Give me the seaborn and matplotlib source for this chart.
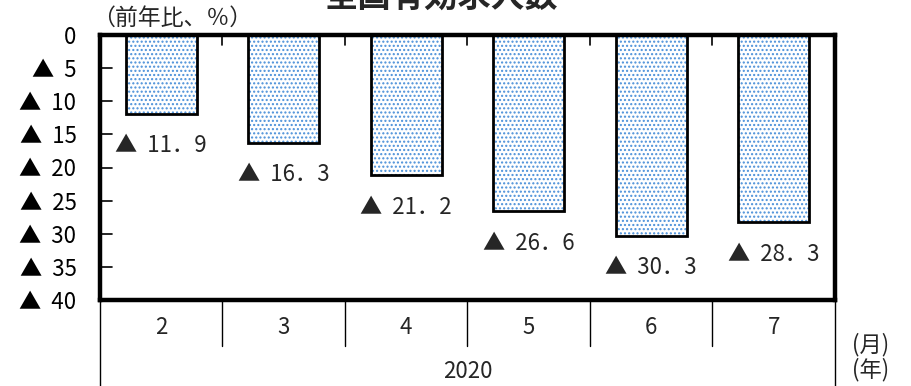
import matplotlib
matplotlib.use("Agg")
import matplotlib.pyplot as plt
import matplotlib.transforms as mtransforms
from matplotlib.patches import Rectangle
import seaborn as sns
import pandas as pd

# 前年比の減少幅（%）
months = ["2", "3", "4", "5", "6", "7"]
decline = [11.9, 16.3, 21.2, 26.6, 30.3, 28.3]
year_label = "2020"
y_ticks = [0, 5, 10, 15, 20, 25, 30, 35, 40]
y_tick_labels = ["0"] + [f"▲  {t}" for t in y_ticks[1:]]
title = "全国有効求人数"

sns.set_theme(style="white")
plt.rcParams["font.family"] = ["Noto Sans CJK JP", "DejaVu Sans"]
plt.rcParams["hatch.linewidth"] = 1.0
plt.rcParams["hatch.color"] = "#4a90d9"

df = pd.DataFrame({"月": months, "減少幅": decline})

fig = plt.figure(figsize=(9.12, 3.86), dpi=100)
ax = fig.add_axes([100 / 912, 1 - 300 / 386, 735 / 912, 265 / 386])

sns.barplot(data=df, x="月", y="減少幅", ax=ax, color="white", width=0.58,
            saturation=1)

# dotted fill plus a solid black outline on each bar
for p in list(ax.patches):
    p.set_facecolor("white")
    p.set_edgecolor("#4a90d9")
    p.set_hatch("....")
    p.set_linewidth(0)
    ax.add_patch(Rectangle(p.get_xy(), p.get_width(), p.get_height(),
                           facecolor="none", edgecolor="black", lw=2, zorder=3))

ax.set_ylim(40, 0)
ax.set_xlim(-0.5, len(months) - 0.5)
ax.set_yticks(y_ticks)
ax.set_yticklabels(y_tick_labels, fontsize=16)
ax.tick_params(axis="y", length=0, pad=17, colors="black")
ax.set_xticks([])
ax.set_xlabel("")
ax.set_ylabel("")
for s in ax.spines.values():
    s.set_visible(True)
    s.set_color("black")
    s.set_linewidth(3.2)
    s.set_zorder(5)

# inward tick marks on the left and top edges of the frame
ytrans = mtransforms.blended_transform_factory(ax.transAxes, ax.transData)
for t in y_ticks[1:-1]:
    ax.plot([0, 12 / 735], [t, t], transform=ytrans, color="black", lw=1.2,
            clip_on=False, zorder=4)
trans = mtransforms.blended_transform_factory(ax.transData, ax.transAxes)
px = 1 / 265
for i in range(len(months) - 1):
    ax.plot([i + 0.5, i + 0.5], [1, 1 - 10 * px], transform=trans,
            color="black", lw=1.2, clip_on=False, zorder=4)

# value labels under each bar
for i, v in enumerate(decline):
    ax.annotate(f"▲  {v:.1f}".replace(".", "．"), xy=(i, v),
                xytext=(0, -23), textcoords="offset points",
                ha="center", va="center", fontsize=16)

# category axis drawn below the frame
for i, m in enumerate(months):
    ax.text(i, -28 * px, m, transform=trans, ha="center", va="center",
            fontsize=16)
for i in range(len(months) - 1):
    ax.plot([i + 0.5, i + 0.5], [0, -46 * px], transform=trans,
            color="black", lw=1, clip_on=False)
for xb in (-0.5, len(months) - 0.5):
    ax.plot([xb, xb], [0, -90 * px], transform=trans,
            color="black", lw=1, clip_on=False)
ax.text((len(months) - 1) / 2, -72 * px, year_label, transform=trans,
        ha="center", va="center", fontsize=16)

fig.text(852 / 912, 1 - 345 / 386, "(月)", ha="left", va="center", fontsize=16)
fig.text(852 / 912, 1 - 370 / 386, "(年)", ha="left", va="center", fontsize=16)
fig.text(92 / 912, 1 - 18 / 386, "（前年比、％）", ha="left", va="center",
         fontsize=16.5)
fig.text(441 / 912, 1 - 7 / 386, title, ha="center", va="baseline",
         fontsize=24, fontweight="bold")

fig.savefig("out.png", dpi=100)
